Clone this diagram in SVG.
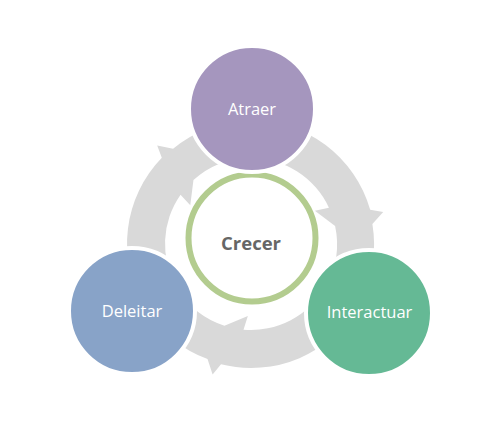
<svg xmlns="http://www.w3.org/2000/svg" width="500" height="422" viewBox="0 0 500 422">
<style>
.arrow{fill:#D9D9D9;}
.node{stroke:#FFFFFF;stroke-width:4;}
.lbl{font-family:"Open Sans","Noto Sans",sans-serif;font-size:16.5px;fill:#FFFFFF;text-anchor:middle;}
.center{font-family:"Open Sans","Noto Sans",sans-serif;font-size:18.5px;font-weight:bold;fill:#666666;text-anchor:middle;}
</style>
<defs>
<path id="arr" d="M0,-86 A86,86 0 0 1 77.94,-36.35 L63.87,-33.24 L84.12,-17.88 A86,86 0 0 1 75.93,40.38 L80.43,67.49 L108.6,57.75 A123,123 0 0 0 121.39,-19.88 L132.19,-31.98 L119.2,-34.18 A124,124 0 0 0 0,-124 Z"/>
</defs>
<rect width="500" height="422" fill="#FFFFFF"/>
<g id="connectors" transform="translate(251,244)">
<use href="#arr" class="arrow"/>
<use href="#arr" class="arrow" transform="rotate(120)"/>
<use href="#arr" class="arrow" transform="rotate(240)"/>
</g>
<g id="crecer">
<circle cx="252" cy="238" r="63.5" fill="#FFFFFF" stroke="#B3CC8F" stroke-width="6"/>
<text class="center" x="251" y="250">Crecer</text>
</g>
<g id="atraer">
<circle class="node" cx="252" cy="109" r="63" fill="#A596BE"/>
<text class="lbl" x="252" y="114.5">Atraer</text>
</g>
<g id="interactuar">
<circle class="node" cx="369" cy="313" r="63" fill="#65B995"/>
<text class="lbl" x="369.5" y="318">Interactuar</text>
</g>
<g id="deleitar">
<circle class="node" cx="132" cy="311" r="63" fill="#88A3C8"/>
<text class="lbl" x="132" y="316.5">Deleitar</text>
</g>
</svg>
